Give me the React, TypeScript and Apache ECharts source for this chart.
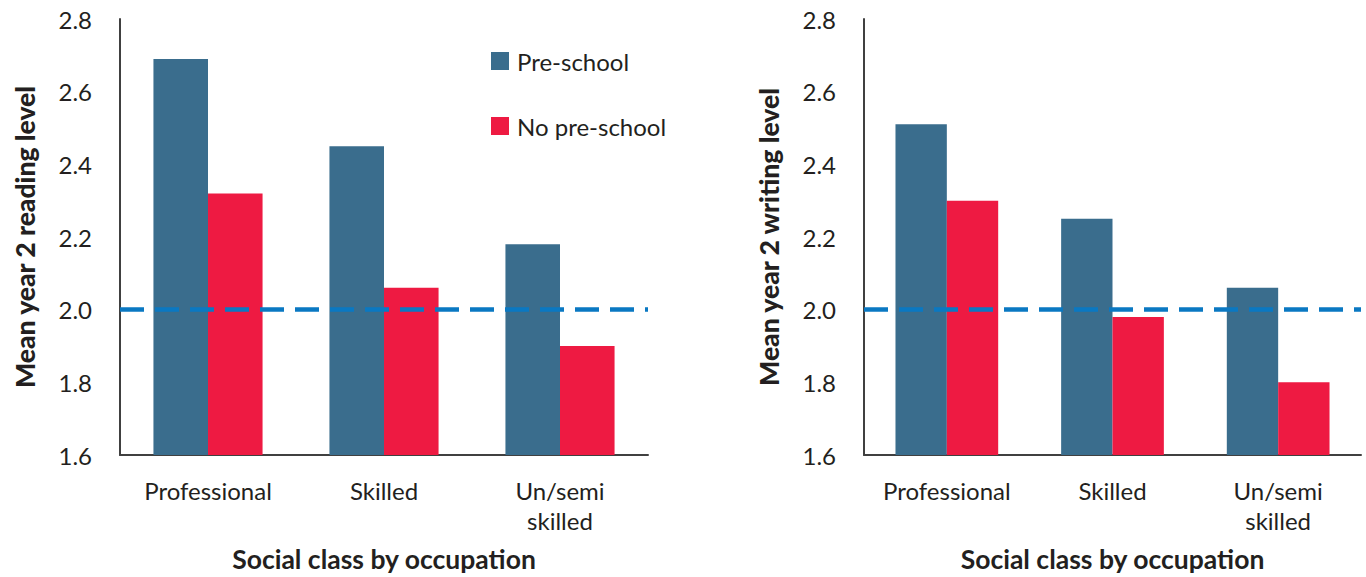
import React, { useEffect, useRef } from "react";
import * as echarts from "echarts";

const categories = ["Professional", "Skilled", "Un/semi\nskilled"];
const seriesNames = ["Pre-school", "No pre-school"];
const readingPre = [2.69, 2.45, 2.18];
const readingNo = [2.32, 2.06, 1.9];
const writingPre = [2.51, 2.25, 2.06];
const writingNo = [2.3, 1.98, 1.8];
const expectedLevel = 2.0;
const yMin = 1.6;
const yMax = 2.8;
const yStep = 0.2;
const yTitles = ["Mean year 2 reading level", "Mean year 2 writing level"];
const xTitle = "Social class by occupation";

const BLUE = "#3A6D8D";
const RED = "#EE1A42";
const DASH = "#0A78C2";
const TEXT = "#231F20";
const AXIS = "#404040";
const FONT = "Lato, 'Noto Sans', sans-serif";

export default function App() {
  const ref = useRef<HTMLDivElement>(null);
  useEffect(() => {
    document.body.style.margin = "0";
    if (!ref.current) return;
    const chart = echarts.init(ref.current, undefined, { renderer: "svg" });

    const grids = [
      { left: 120, top: 19, width: 528, height: 436 },
      { left: 864, top: 19, width: 497, height: 436 },
    ];

    const xAxes = grids.map((_, i) => ({
      type: "category",
      gridIndex: i,
      data: categories,
      axisLine: { show: true, lineStyle: { color: AXIS, width: 2 } },
      axisTick: { show: false },
      axisLabel: {
        color: TEXT,
        fontSize: 24,
        fontFamily: FONT,
        lineHeight: 30,
        margin: 20,
        interval: 0,
      },
      name: xTitle,
      nameLocation: "middle",
      nameGap: 90,
      nameTextStyle: {
        color: TEXT,
        fontSize: 26.5,
        fontWeight: "bold",
        fontFamily: FONT,
      },
    }));

    const yAxes = grids.map((_, i) => ({
      type: "value",
      gridIndex: i,
      min: yMin,
      max: yMax,
      interval: yStep,
      axisLine: { show: true, lineStyle: { color: AXIS, width: 2 } },
      axisTick: { show: false },
      splitLine: { show: false },
      axisLabel: {
        color: TEXT,
        fontSize: 24,
        fontFamily: FONT,
        margin: 28,
        formatter: (v: number) => v.toFixed(1),
      },
      name: yTitles[i],
      nameLocation: "middle",
      nameRotate: 90,
      nameGap: 82,
      nameTextStyle: {
        color: TEXT,
        fontSize: 26.5,
        fontWeight: 900,
        fontFamily: FONT,
      },
    }));

    const dataSets = [
      [readingPre, readingNo],
      [writingPre, writingNo],
    ];
    const colors = [BLUE, RED];

    const series: any[] = [];
    dataSets.forEach((pair, gi) => {
      pair.forEach((vals, si) => {
        series.push({
          type: "bar",
          name: seriesNames[si],
          xAxisIndex: gi,
          yAxisIndex: gi,
          data: vals,
          barGap: "0%",
          barCategoryGap: "38%",
          itemStyle: { color: colors[si] },
          markLine:
            si === 1
              ? {
                  silent: true,
                  symbol: "none",
                  label: { show: false },
                  lineStyle: { color: DASH, width: 4.5, type: [24, 11] },
                  data: [{ yAxis: expectedLevel }],
                }
              : undefined,
        });
      });
    });

    chart.setOption({
      animation: false,
      backgroundColor: "#ffffff",
      grid: grids,
      xAxis: xAxes,
      yAxis: yAxes,
      legend: {
        data: seriesNames,
        orient: "vertical",
        left: 491,
        top: 49,
        padding: 0,
        itemWidth: 18,
        itemHeight: 18,
        itemGap: 41,
        icon: "rect",
        textStyle: {
          color: TEXT,
          fontSize: 24,
          fontFamily: FONT,
          lineHeight: 24,
          padding: [0, 0, 0, 3],
        },
      },
      series,
    });
    return () => chart.dispose();
  }, []);
  return <div ref={ref} style={{ width: 1366, height: 577 }} />;
}
